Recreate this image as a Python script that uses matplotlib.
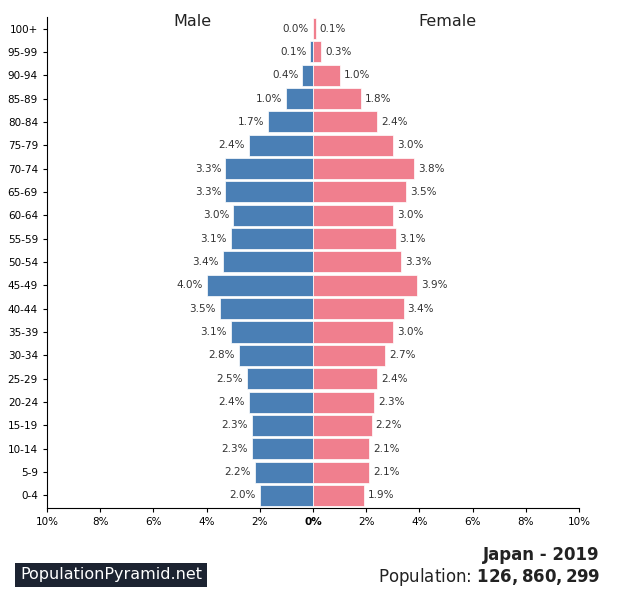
import matplotlib
matplotlib.use("Agg")
import matplotlib.pyplot as plt

ages = ["0-4","5-9","10-14","15-19","20-24","25-29","30-34","35-39","40-44","45-49",
        "50-54","55-59","60-64","65-69","70-74","75-79","80-84","85-89","90-94","95-99","100+"]
male = [2.0,2.2,2.3,2.3,2.4,2.5,2.8,3.1,3.5,4.0,3.4,3.1,3.0,3.3,3.3,2.4,1.7,1.0,0.4,0.1,0.0]
female = [1.9,2.1,2.1,2.2,2.3,2.4,2.7,3.0,3.4,3.9,3.3,3.1,3.0,3.5,3.8,3.0,2.4,1.8,1.0,0.3,0.1]
ticks = [-10,-8,-6,-4,-2,0,2,4,6,8,10]

fig = plt.figure(figsize=(6.35,6.05), dpi=100)
ax = fig.add_axes([0.074,0.160,0.838,0.812])
y = list(range(len(ages)))
ax.barh(y,[-m for m in male],height=0.9,color="#4a7fb5",edgecolor="white",linewidth=0.5)
ax.barh(y,female,height=0.9,color="#f07f8e",edgecolor="white",linewidth=0.5)
for i,(m,f) in enumerate(zip(male,female)):
    ax.text(-m-0.15,i,f"{m:.1f}%",ha="right",va="center",fontsize=7.5,color="#333")
    ax.text(f+0.15,i,f"{f:.1f}%",ha="left",va="center",fontsize=7.5,color="#333")
ax.set_xlim(-10,10)
ax.set_ylim(-0.55,20.5)
ax.set_yticks(y)
ax.set_yticklabels(ages,fontsize=7.5)
ax.set_xticks(ticks)
ax.set_xticklabels([f"{abs(t)}%" for t in ticks],fontsize=7.5)
ax.get_xticklabels()[5].set_fontweight("bold")
for s in ["top","right"]:
    ax.spines[s].set_visible(False)
ax.tick_params(length=3)
fig.text(192/635,1-22/605,"Male",ha="center",va="center",fontsize=11.5,color="#222")
fig.text(447/635,1-22/605,"Female",ha="center",va="center",fontsize=11.5,color="#222")
fig.text(20/635,1-575/605,"PopulationPyramid.net",ha="left",va="center",fontsize=11.5,color="white",
         bbox=dict(boxstyle="square,pad=0.3",facecolor="#1c2331",edgecolor="none"))
fig.text(600/635,1-555/605,"Japan - 2019",ha="right",va="center",fontsize=12,fontweight="bold",color="#222")
fig.text(600/635,1-577/605,"Population: $\\bf{126,860,299}$",ha="right",va="center",fontsize=12,color="#222")
fig.savefig("out.png",dpi=100)
